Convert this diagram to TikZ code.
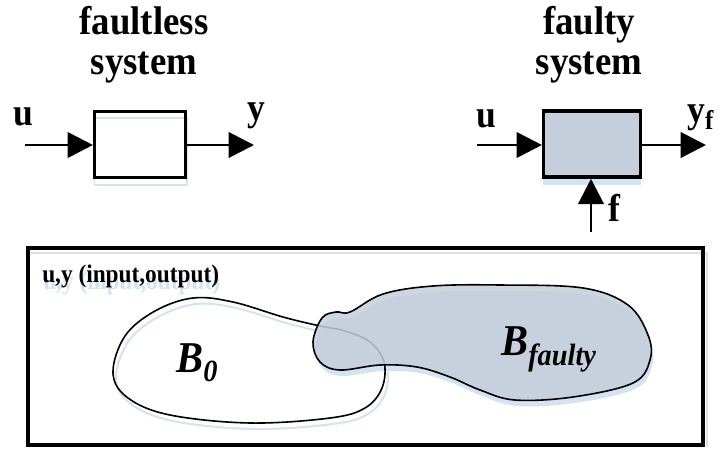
\documentclass[tikz,border=0pt]{standalone}
\usepackage{fontspec}
\setmainfont{Liberation Serif}
\newfontfamily\narrowserif[FakeStretch=0.92]{Liberation Serif}
\usetikzlibrary{arrows.meta, positioning}

\definecolor{faultfill}{HTML}{C5CFDB}
\definecolor{glow}{HTML}{D4E3F2}

% outlines of the two behaviour sets (px units)
\newcommand{\bzeroshape}{plot[smooth cycle, tension=0.6] coordinates {(113,373) (125,336) (155,311) (193,298) (233,302) (283,317) (320,326) (345,331) (370,342) (384,362) (382,388) (365,408) (330,418) (250,423) (170,415) (128,398)}}
\newcommand{\bfaultyshape}{plot[smooth cycle, tension=0.6] coordinates {(313,342) (322,318) (336,312) (350,312) (383,294) (433,286) (500,285) (583,288) (628,305) (648,335) (650,360) (633,383) (573,397) (515,400) (480,390) (450,377) (417,367) (380,365) (340,370) (320,362)}}

\begin{document}
\begin{tikzpicture}[x=0.75pt, y=-0.75pt,
	sig/.style={line width=2.2pt, -{Triangle[length=19pt, width=19pt]}},
	sysbox/.style={draw, line width=2.6pt, minimum height=49.5pt, inner sep=0pt},
	title/.style={font=\narrowserif\fontsize{30}{30}\selectfont\bfseries, align=center, inner sep=0pt, anchor=north},
	lbl/.style={font=\narrowserif\fontsize{29}{30}\selectfont\bfseries, inner sep=0pt, anchor=base},
	setlbl/.style={font=\narrowserif\fontsize{33}{34}\selectfont\bfseries\itshape, inner sep=0pt, anchor=base west},
	spacelbl/.style={font=\narrowserif\fontsize{19}{20}\selectfont\bfseries, inner sep=0pt, anchor=base west}]
	\useasboundingbox (0,0) rectangle (718,450);

	% Titles:
	\node[title] (ttlL) at (144,6) {faultless\\system};
	\node[title] (ttlR) at (589,6) {faulty\\system};

	% Faultless system:
	\draw[glow, line width=1.2pt] (94.5,118) rectangle (187,185);
	\node[sysbox, minimum width=68pt] (boxL) at (140,144.5) {};
	\coordinate (inL) at (25,145);
	\coordinate (outL) at (254,145);
	\draw[sig] (inL) -- (boxL.west |- inL);
	\draw[sig] (boxL.east |- outL) -- (outL);
	\node[lbl] (uL) at (23,125) {u};
	\node[lbl] (yL) at (256,120) {y};

	% Faulty system:
	\fill[glow] (543,150) rectangle (641,185);
	\node[sysbox, fill=faultfill, minimum width=72.5pt] (boxR) at (592,144) {};
	\coordinate (inR) at (477,145);
	\coordinate (outR) at (706,145);
	\coordinate (fin) at (591,232);
	\draw[sig] (inR) -- (boxR.west |- inR);
	\draw[sig] (boxR.east |- outR) -- (outR);
	\draw[sig] (fin) -- (fin |- boxR.south);
	\node[lbl] (uR) at (486,127) {u};
	\node[lbl, anchor=base west] (yR) at (687,122) {y\textsubscript{f}};
	\node[lbl, anchor=base west] (fR) at (608,221) {f};

	% Input/output space:
	\draw[glow, line width=1.2pt] (30,253) -- (707,253) -- (707,447);
	\node[spacelbl, text=glow] (spaceglow) at (43,289) {u,y (input,output)};
	\node[spacelbl] (space) at (42,282) {u,y (input,output)};

	% Sets B_0 and B_faulty with their shadows:
	\fill[glow, shift={(2,6)}] \bfaultyshape;
	\draw[glow, line width=1.5pt, shift={(3,6)}] \bzeroshape;
	\draw[line width=1.2pt] \bzeroshape;
	\fill[faultfill, fill opacity=0.85] \bfaultyshape;
	\draw[line width=1.2pt] \bfaultyshape;
	\node[setlbl] (b0) at (176,372) {B\textsubscript{0}};
	\node[setlbl] (bf) at (501,355) {B\textsubscript{faulty}};

	\draw[line width=3pt] (28,248) rectangle (703,445);
\end{tikzpicture}
\end{document}
